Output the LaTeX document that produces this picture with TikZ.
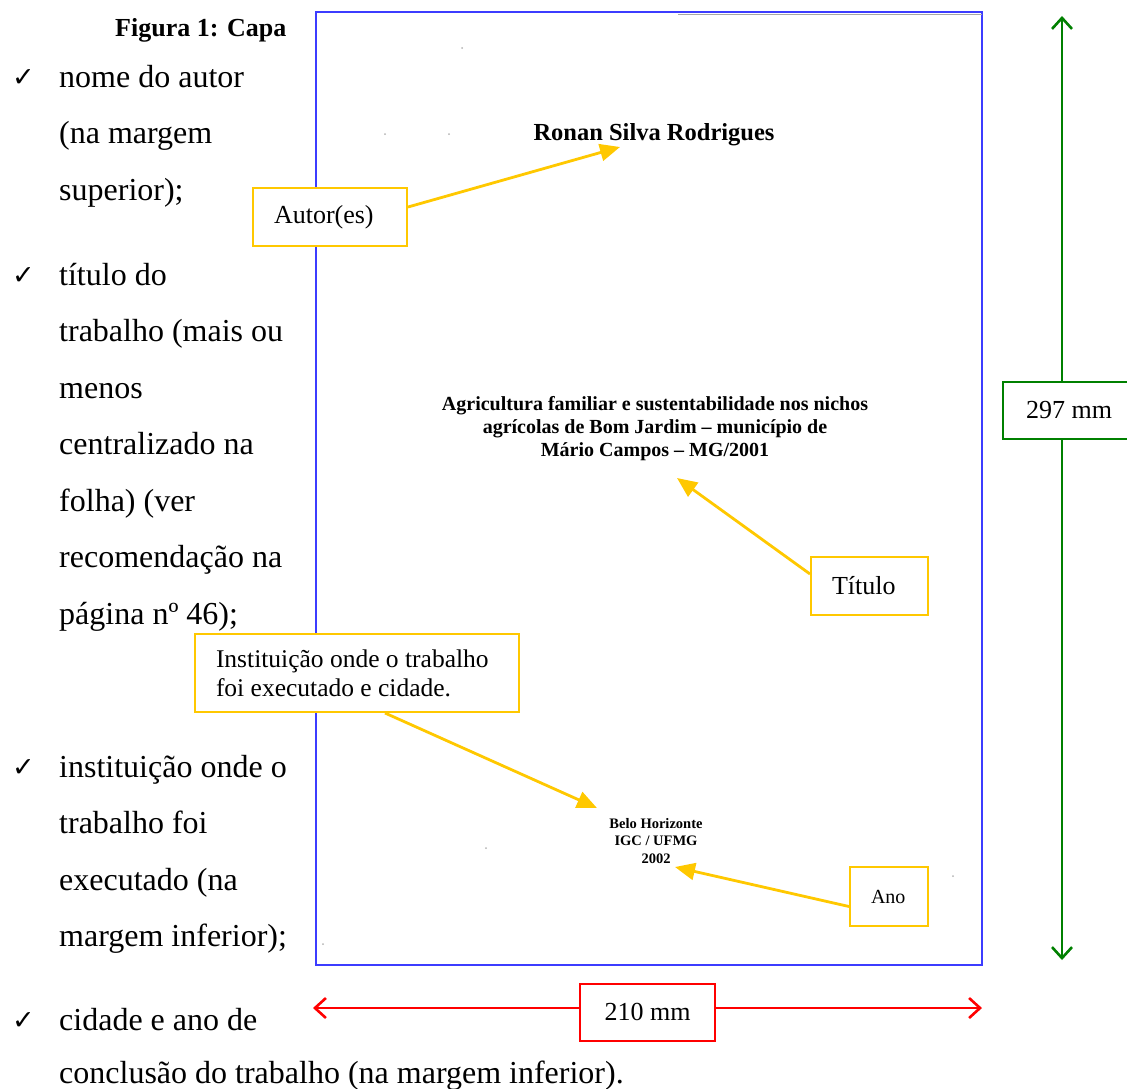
\documentclass[tikz,border=0pt]{standalone}
\usepackage{fontspec}
\setmainfont{Liberation Serif}
\newfontfamily\symfont{DejaVu Sans}
\usetikzlibrary{arrows.meta}
\definecolor{pageblue}{RGB}{60,60,255}
\definecolor{ylw}{RGB}{255,200,0}
\definecolor{dgreen}{RGB}{0,128,0}
\definecolor{dred}{RGB}{255,0,0}
\begin{document}
\begin{tikzpicture}[x=1pt,y=-1pt,
  body/.style={anchor=base west, inner sep=0pt, font=\fontsize{32}{36}\selectfont},
  tick/.style={anchor=base west, inner sep=0pt, font=\symfont\fontsize{27}{30}\selectfont},
  lbl/.style={draw=ylw, line width=2pt, fill=white, inner ysep=0pt, inner xsep=21pt, align=flush left, font=\fontsize{26}{29}\selectfont},
  yarr/.style={draw=ylw, line width=2.8pt, -{Triangle[length=20pt,width=17pt]}},
  ptxt/.style={inner sep=0pt, align=center},
  dimarr/.style={line width=2.6pt, {Straight Barb[length=11pt,width=20pt]}-{Straight Barb[length=11pt,width=20pt]}},
  dimbox/.style={line width=2pt, fill=white, inner sep=0pt, font=\fontsize{26}{29}\selectfont}
]
\useasboundingbox (0,0) rectangle (1127,1088);
\clip (0,0) rectangle (1127,1088);

% ---- page ----
\draw[pageblue, line width=1.2pt] (316,12) rectangle (982,965);
\draw[gray!70, line width=1.6pt] (678,14.5) -- (982,14.5);
\draw[pageblue, line width=1.6pt] (678,12) -- (982,12);
\foreach \p in {(462,48),(385,134),(449,134),(486,848),(323,944),(953,876)}
  \fill[gray!60] \p circle (1pt);

% ---- page texts ----
\node[ptxt, font=\bfseries\fontsize{24.5}{28}\selectfont] (autorname) at (654,135) {Ronan Silva Rodrigues};
\node[ptxt, font=\bfseries\fontsize{20}{23}\selectfont] (titletext) at (655,429)
  {Agricultura familiar e sustentabilidade nos nichos\\agrícolas de Bom Jardim -- município de\\Mário Campos -- MG/2001};
\node[ptxt, font=\bfseries\fontsize{14.5}{17.5}\selectfont] (insttext) at (656,841)
  {Belo Horizonte\\IGC / UFMG\\2002};

% ---- left column ----
\node[anchor=base west, inner sep=0pt, font=\bfseries\fontsize{26}{30}\selectfont] (fig) at (115,36) {Figura 1: Capa};

\node[tick] (c1) at (12,86) {✓};
\node[body] (a1) at (59,87) {nome do autor};
\node[body] (a2) at (59,143.5) {(na margem};
\node[body] (a3) at (59,200) {superior);};

\node[tick] (c2) at (12,284) {✓};
\node[body] (b1) at (59,285) {título do};
\node[body] (b2) at (59,341.5) {trabalho (mais ou};
\node[body] (b3) at (59,398) {menos};
\node[body] (b4) at (59,454.5) {centralizado na};
\node[body] (b5) at (59,511) {folha) (ver};
\node[body] (b6) at (59,567.5) {recomendação na};
\node[body] (b7) at (59,624) {página nº 46);};

\node[tick] (c3) at (12,776) {✓};
\node[body] (d1) at (59,777) {instituição onde o};
\node[body] (d2) at (59,833.5) {trabalho foi};
\node[body] (d3) at (59,890) {executado (na};
\node[body] (d4) at (59,946.5) {margem inferior);};

\node[tick] (c4) at (12,1029) {✓};
\node[body] (e1) at (59,1030) {cidade e ano de};
\node[body] (e2) at (59,1083) {conclusão do trabalho (na margem inferior).};

% ---- label boxes ----
\node[lbl, text width=112pt, minimum height=58pt] (lautor) at (330,217) {Autor(es)};
\node[lbl, text width=75pt, minimum height=58pt] (ltitulo) at (869.5,586) {Título};
\node[lbl, text width=282pt, minimum height=78pt, font=\fontsize{25.5}{29}\selectfont] (linst) at (357,673)
  {\mbox{Instituição onde o trabalho}\\\mbox{foi executado e cidade.}};
\node[lbl, text width=36pt, minimum height=59pt, font=\fontsize{20}{24}\selectfont] (lano) at (889,896.5) {Ano};

% ---- arrow targets ----
\coordinate (tautor) at (620,147);
\coordinate (ttitulo) at (677,478);
\coordinate (tinst) at (597,808);
\coordinate (tano) at (675,867);

\draw[yarr] ([yshift=10pt]lautor.east) -- (tautor);
\draw[yarr] ([yshift=12pt]ltitulo.west) -- (ttitulo);
\draw[yarr] ([xshift=28pt]linst.south) -- (tinst);
\draw[yarr] ([yshift=-10pt]lano.west) -- (tano);

% ---- dimensions ----
\coordinate (wl) at (313,1008);
\coordinate (wr) at (982,1008);
\draw[dimarr, dred] (wl) -- (wr);
\node[dimbox, draw=dred, minimum width=135pt, minimum height=57pt] (wbox) at (647.5,1012) {210 mm};

\coordinate (ht) at (1062,16);
\coordinate (hb) at (1062,960);
\draw[dimarr, dgreen] (ht) -- (hb);
\node[dimbox, draw=dgreen, minimum width=132pt, minimum height=57pt] (hbox) at (1069,410.5) {297 mm};
\end{tikzpicture}
\end{document}
